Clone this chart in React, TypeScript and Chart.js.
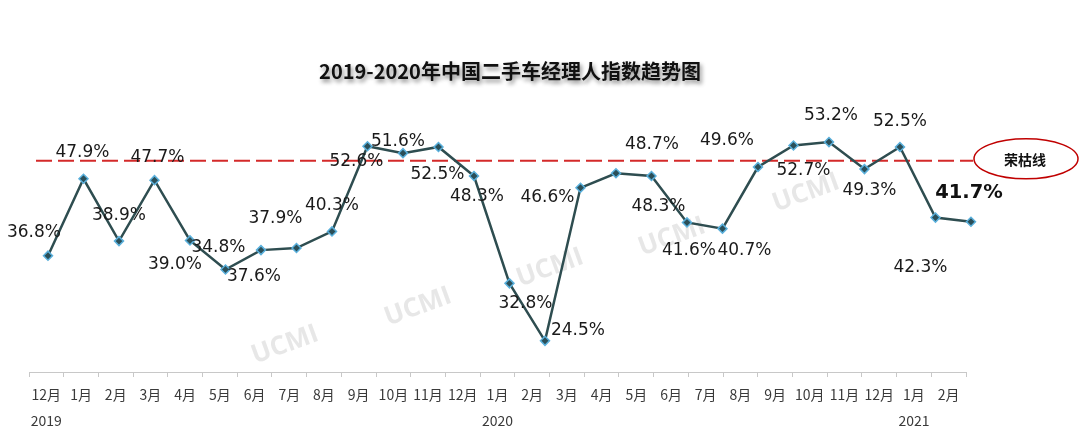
import React, { useEffect, useRef } from "react";
import { Chart, registerables } from "chart.js";

Chart.register(...registerables);

const months = ["12月", "1月", "2月", "3月", "4月", "5月", "6月", "7月", "8月", "9月", "10月", "11月", "12月", "1月", "2月", "3月", "4月", "5月", "6月", "7月", "8月", "9月", "10月", "11月", "12月", "1月", "2月"];
const yearMarks = ["2019", "", "", "", "", "", "", "", "", "", "", "", "", "2020", "", "", "", "", "", "", "", "", "", "", "", "2021", ""];
const indexValues = [36.8, 47.9, 38.9, 47.7, 39.0, 34.8, 37.6, 37.9, 40.3, 52.6, 51.6, 52.5, 48.3, 32.8, 24.5, 46.6, 48.7, 48.3, 41.6, 40.7, 49.6, 52.7, 53.2, 49.3, 52.5, 42.3, 41.7];
const boomBustLevel = 50.5;
const boomBustName = "荣枯线";
const titleText = "2019-2020年中国二手车经理人指数趋势图";
const watermarkText = "UCMI";

// label placement relative to each point (layout only)
const labelDx = [-14, -1, 0, 3, -15, -7, -7, -21, 0, -11, -5, -1, 3, 16, 33, -33, 36, 7, 2, 22, -31, 10, 2, 5, 0, -15, -2];
const labelDy = [-23, -26, -26, -23, 24, -22, 26, -29, -26, 15, -12, 28, 21, 20, -10, 10, -29, 31, 28, 22, -26, 25, -27, 21, -25, 50, -29];

const W = 1080;
const H = 442;

const overlayPlugin = {
  id: "overlay",
  beforeDatasetsDraw(chart: any) {
    const ctx = chart.ctx;
    const area = chart.chartArea;
    // watermarks
    const marks = [
      [285, 345],
      [418, 307],
      [550, 268],
      [672, 237],
      [806, 193],
    ];
    ctx.save();
    ctx.fillStyle = "rgba(225,225,225,0.8)";
    ctx.font = "bold 26px 'Open Sans'";
    ctx.textAlign = "center";
    ctx.textBaseline = "middle";
    for (const [x, y] of marks) {
      ctx.save();
      ctx.translate(x, y);
      ctx.rotate(-20 * Math.PI / 180);
      ctx.fillText(watermarkText, 0, 0);
      ctx.restore();
    }
    ctx.restore();
    // boom-bust dashed line
    const yy = chart.scales.y.getPixelForValue(boomBustLevel);
    ctx.save();
    ctx.strokeStyle = "#d42a2a";
    ctx.lineWidth = 2;
    ctx.setLineDash([16, 6]);
    ctx.beginPath();
    ctx.moveTo(area.left + 7, yy);
    ctx.lineTo(973, yy);
    ctx.stroke();
    ctx.restore();
  },
  afterDatasetsDraw(chart: any) {
    const ctx = chart.ctx;
    const meta = chart.getDatasetMeta(0);
    ctx.save();
    ctx.textAlign = "center";
    ctx.textBaseline = "middle";
    meta.data.forEach((pt: any, i: number) => {
      const last = i === indexValues.length - 1;
      ctx.fillStyle = last ? "#111" : "#1a1a1a";
      ctx.font = last ? "bold 19.5px 'DejaVu Sans'" : "17px 'DejaVu Sans'";
      ctx.fillText(indexValues[i].toFixed(1) + "%", pt.x + labelDx[i], pt.y + labelDy[i]);
    });
    ctx.restore();
  },
  afterDraw(chart: any) {
    const ctx = chart.ctx;
    // title with shadow
    ctx.save();
    ctx.font = "bold 20px 'Noto Sans CJK SC'";
    ctx.textAlign = "center";
    ctx.textBaseline = "middle";
    ctx.shadowColor = "rgba(0,0,0,0.45)";
    ctx.shadowBlur = 4;
    ctx.shadowOffsetX = 2;
    ctx.shadowOffsetY = 3;
    ctx.fillStyle = "#111";
    ctx.fillText(titleText, 510, 71);
    ctx.restore();
    // legend ellipse
    const yy = chart.scales.y.getPixelForValue(boomBustLevel);
    ctx.save();
    ctx.strokeStyle = "#c00000";
    ctx.lineWidth = 1.5;
    ctx.beginPath();
    ctx.ellipse(1026, yy - 2, 52, 20, 0, 0, Math.PI * 2);
    ctx.stroke();
    ctx.fillStyle = "#111";
    ctx.font = "bold 14px 'Noto Sans CJK SC'";
    ctx.textAlign = "center";
    ctx.textBaseline = "middle";
    ctx.fillText(boomBustName, 1025, yy - 1);
    ctx.restore();
  },
};

export default function App() {
  const ref = useRef<HTMLCanvasElement | null>(null);
  useEffect(() => {
    if (!ref.current) return;
    const labels = months.map((m, i) => (yearMarks[i] ? [m, yearMarks[i]] : m));
    const chart = new Chart(ref.current, {
      type: "line",
      data: {
        labels,
        datasets: [
          {
            data: indexValues.map((v, i) => ({ x: i, y: v })),
            xAxisID: "xd",
            yAxisID: "y",
            borderColor: "#2e4d50",
            borderWidth: 2.5,
            pointStyle: "rectRot",
            pointRadius: 4.5,
            pointBackgroundColor: "#2b4f58",
            pointBorderColor: "#5ab0dc",
            pointBorderWidth: 1.5,
            tension: 0,
            clip: false as any,
          },
        ],
      },
      options: {
        animation: false,
        responsive: false,
        devicePixelRatio: 1,
        layout: { padding: { left: 29, right: 114, top: 95, bottom: 0 } },
        plugins: { legend: { display: false }, tooltip: { enabled: false }, title: { display: false } },
        scales: {
          x: {
            type: "category",
            position: "bottom",
            offset: true,
            afterFit: (s: any) => {
              s.height = 70;
            },
            grid: {
              display: true,
              offset: true,
              drawOnChartArea: false,
              drawTicks: true,
              tickLength: 5,
              color: "#c8c8c8",
            },
            border: { display: true, color: "#c8c8c8", width: 1 },
            ticks: {
              autoSkip: false,
              maxRotation: 0,
              minRotation: 0,
              padding: 5,
              color: "#3a3a3a",
              font: { family: "'Noto Sans CJK SC'", size: 14, lineHeight: 26 / 14 },
            },
          },
          xd: {
            type: "linear",
            display: false,
            min: -0.535,
            max: 25.86,
          },
          y: {
            type: "linear",
            display: false,
            min: 20,
            max: 60,
          },
        },
      },
      plugins: [overlayPlugin],
    });
    return () => chart.destroy();
  }, []);
  return (
    <div style={{ position: "fixed", left: 0, top: 0, width: W, height: H, background: "#fff" }}>
      <canvas ref={ref} width={W} height={H} style={{ width: W, height: H, display: "block" }} />
    </div>
  );
}
